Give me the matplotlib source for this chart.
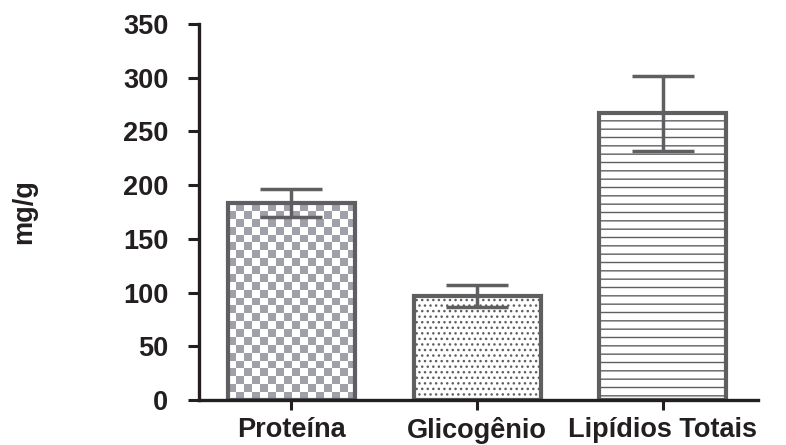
import numpy as np
import matplotlib
matplotlib.use('Agg')
import matplotlib.pyplot as plt

plt.rcParams['font.family'] = ['Liberation Sans', 'DejaVu Sans']
plt.rcParams['font.weight'] = 'bold'
plt.rcParams['hatch.color'] = '#a4a4a4'
plt.rcParams['hatch.linewidth'] = 1.0

categories = ['Proteína', 'Glicogênio', 'Lipídios Totais']
means = [183, 97, 267]
errors = [13, 10, 35]
hatches = [None, '...', '--']
yticks = [0, 50, 100, 150, 200, 250, 300, 350]

edge = '#5f5f61'
axis_col = '#231f20'
fs = 19.5

fig = plt.figure(figsize=(7.86, 4.45), dpi=100)
ax = fig.add_axes([199 / 786, 45 / 445, 559 / 786, 376 / 445])

x = np.arange(len(categories))

bars = ax.bar(x, means, width=0.683, facecolor='white', edgecolor=edge,
              linewidth=3, zorder=2)
for b, h in zip(bars, hatches):
    if h:
        b.set_hatch(h)

# checkerboard fill for the first bar
b0 = bars[0]
b0.set_facecolor('none')
ncols = 16
nrows = int(round(means[0] * 1.074 / (127 / ncols)))
checker = (np.indices((nrows, ncols)).sum(axis=0) % 2).astype(float)
rgb = np.ones((nrows, ncols, 3))
rgb[checker == 1] = np.array([0xa0, 0xa0, 0xa8]) / 255
im = ax.imshow(rgb, extent=(b0.get_x(), b0.get_x() + b0.get_width(), 0, means[0]),
               aspect='auto', interpolation='nearest', zorder=1.9)
im.set_clip_path(b0)
ax.set_xlim(-0.495, 2.511)
ax.set_ylim(0, 350)

ax.errorbar(x, means, yerr=errors, fmt='none', ecolor=edge, elinewidth=2.5,
            capsize=22.5, capthick=2.5, zorder=3)

for s in ['top', 'right']:
    ax.spines[s].set_visible(False)
for s in ['left', 'bottom']:
    ax.spines[s].set_linewidth(2.4)
    ax.spines[s].set_color(axis_col)
    ax.spines[s].set_zorder(4)

ax.set_yticks(yticks)
ax.set_xticks(x)
ax.set_xticklabels(categories)
ax.tick_params(axis='y', length=8, width=2.2, color=axis_col, pad=14,
               labelsize=fs, labelcolor=axis_col)
ax.tick_params(axis='x', length=7, width=2.2, color=axis_col, pad=5,
               labelsize=fs, labelcolor=axis_col)
ax.set_ylabel('mg/g', fontsize=fs, fontweight='bold', color=axis_col)
ax.yaxis.set_label_coords(-0.29, 0.5)

fig.savefig('out.png', dpi=100)
